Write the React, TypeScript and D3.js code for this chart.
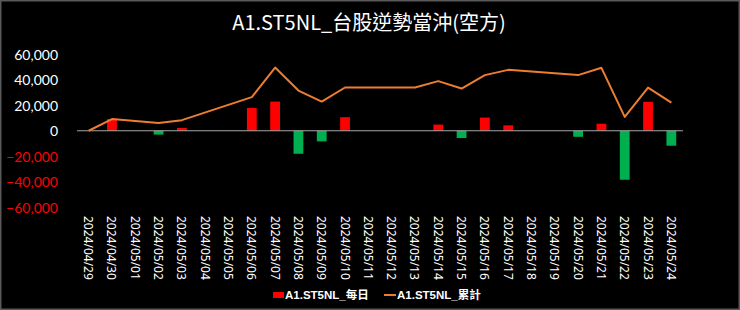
import React from 'react';
import * as d3 from 'd3';

const categories = [
  '2024/04/29','2024/04/30','2024/05/01','2024/05/02','2024/05/03','2024/05/04','2024/05/05',
  '2024/05/06','2024/05/07','2024/05/08','2024/05/09','2024/05/10','2024/05/11','2024/05/12',
  '2024/05/13','2024/05/14','2024/05/15','2024/05/16','2024/05/17','2024/05/18','2024/05/19',
  '2024/05/20','2024/05/21','2024/05/22','2024/05/23','2024/05/24'
];

const dailyValues: (number | null)[] = [
  0, 9100, null, -3000, 2200, null, null,
  17800, 22800, -18000, -8300, 10600, null, null,
  0, 4800, -5700, 10300, 4200, null, null,
  -4700, 5500, -38300, 22600, -11700
];

const cumulativeValues: (number | null)[] = [
  0, 9100, null, 6100, 8300, null, null,
  26300, 49400, 31400, 22800, 33800, null, null,
  33800, 38800, 33000, 43500, 47600, null, null,
  43500, 49200, 10800, 33700, 22000
];

const yTicks = [60000, 40000, 20000, 0, -20000, -40000, -60000];

const titleText = 'A1.ST5NL_台股逆勢當沖(空方)';
const legendDaily = 'A1.ST5NL_每日';
const legendCum = 'A1.ST5NL_累計';

const W = 740;
const H = 310;

export default function App() {
  const x = d3.scaleBand<string>().domain(categories).range([77, 683]).padding(0);
  const y = d3.scaleLinear().domain([-60000, 60000]).range([207.5, 54]);
  const step = x.bandwidth();
  const barW = step * 0.42;
  const cx = (c: string) => (x(c) as number) + step / 2;
  const fmt = d3.format(',');

  const linePts = categories
    .map((c, i) => ({ c, v: cumulativeValues[i] }))
    .filter((d) => d.v !== null) as { c: string; v: number }[];
  const line = d3.line<{ c: string; v: number }>().x((d) => cx(d.c)).y((d) => y(d.v));

  const latin = "'Liberation Sans Narrow', 'Noto Sans CJK TC', sans-serif";

  return (
    <svg width={W} height={H} style={{ position: 'absolute', left: 0, top: 0, background: '#000' }}>
      <rect x={0} y={0} width={W} height={H} fill="#000" />
      <rect x={0.75} y={0.75} width={W - 1.5} height={H - 1.5} fill="none" stroke="#595959" strokeWidth={1.5} />
      <text x={369} y={21.5} textAnchor="middle" dominantBaseline="central" fill="#ffffff"
        style={{ fontFamily: latin, fontSize: 20 }}>{titleText}</text>

      {yTicks.map((t) => (
        <text key={t} x={58} y={y(t)} textAnchor="end" dominantBaseline="central"
          fill={t < 0 ? '#ff0000' : '#ffffff'}
          style={{ fontFamily: 'Lato, sans-serif', fontSize: 14 }}>{fmt(t)}</text>
      ))}

      {categories.map((c, i) => {
        const v = dailyValues[i];
        if (v === null || v === 0) return null;
        const y0 = y(0);
        const y1 = y(v);
        return (
          <rect key={c} x={cx(c) - barW / 2} width={barW} y={Math.min(y0, y1)} height={Math.abs(y1 - y0)}
            fill={v >= 0 ? '#ff0000' : '#00b050'} />
        );
      })}

      <line x1={77} x2={683} y1={y(0)} y2={y(0)} stroke="#a6a6a6" strokeWidth={1} />

      <path d={line(linePts) || ''} fill="none" stroke="#ed7d31" strokeWidth={2} strokeLinejoin="round" />

      {categories.map((c) => (
        <text key={c} transform={`translate(${cx(c)},216) rotate(90)`} textAnchor="start" dominantBaseline="central"
          fill="#ffffff" style={{ fontFamily: "'Noto Sans', sans-serif", fontSize: 12 }}>{c}</text>
      ))}

      <rect x={273} y={292} width={11} height={6} fill="#ff0000" />
      <text x={285} y={295} dominantBaseline="central" fill="#ffffff"
        style={{ fontFamily: "'Liberation Sans', 'Noto Sans CJK TC', sans-serif", fontSize: 11.5, fontWeight: 'bold' }}>{legendDaily}</text>
      <line x1={384} x2={396} y1={295} y2={295} stroke="#ed7d31" strokeWidth={2} />
      <text x={397} y={295} dominantBaseline="central" fill="#ffffff"
        style={{ fontFamily: "'Liberation Sans', 'Noto Sans CJK TC', sans-serif", fontSize: 11.5, fontWeight: 'bold' }}>{legendCum}</text>
    </svg>
  );
}
